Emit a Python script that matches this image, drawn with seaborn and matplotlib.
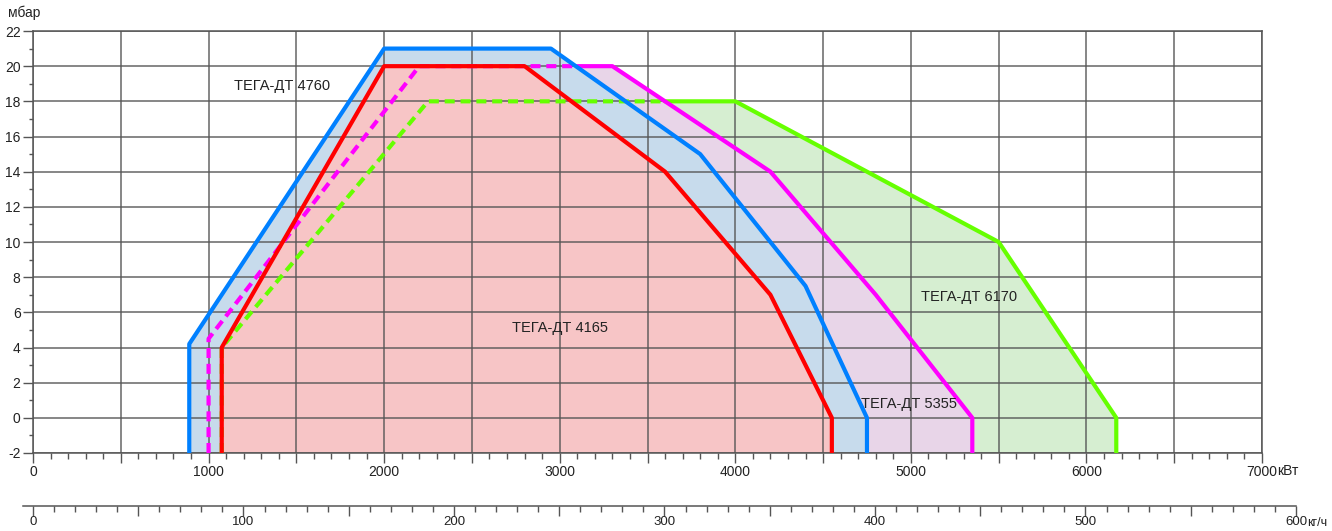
import numpy as np
import pandas as pd
import matplotlib
matplotlib.use("Agg")
import matplotlib.pyplot as plt
import seaborn as sns

# burner working fields, kW vs mbar
blue_kw = [890, 890, 2000, 2950, 3800, 4400, 4750, 4750]
blue_mbar = [-2, 4.2, 21, 21, 15, 7.5, 0, -2]

red_kw = [1075, 1075, 2000, 2800, 3600, 4200, 4550, 4550]
red_mbar = [-2, 4, 20, 20, 14, 7, 0, -2]

magenta_kw = [1000, 1000, 2200, 3100, 3300, 4200, 4800, 5350, 5350]
magenta_mbar = [-2, 4.5, 20, 20, 20, 14, 7, 0, -2]
magenta_dash_end = 3  # dashed part runs up to this vertex

green_kw = [1075, 1075, 2250, 3600, 4000, 5500, 6170, 6170]
green_mbar = [-2, 4, 18, 18, 18, 10, 0, -2]
green_dash_end = 3

labels = ["ТЕГА-ДТ 4760", "ТЕГА-ДТ 4165", "ТЕГА-ДТ 5355", "ТЕГА-ДТ 6170"]
label_kw = [1420, 3000, 4990, 5330]
label_mbar = [18.9, 5.1, 0.8, 6.9]

kw_ticks = list(range(0, 7001, 1000))
kg_ticks = list(range(0, 601, 100))
mbar_ticks = list(range(-2, 23, 2))

sns.set_theme(style="white")
plt.rcParams['font.family'] = ['Liberation Sans', 'DejaVu Sans']

fig = plt.figure(figsize=(13.32, 5.31), dpi=100)
ax = fig.add_axes([33 / 1332, 1 - 453 / 531, (1262 - 33) / 1332, (453 - 31) / 531])

grid_c = "#555555"
text_c = "#222222"

# fills, biggest first so smaller fields sit on top
fills = [
    (green_kw, green_mbar, "#d6eed1"),
    (magenta_kw, magenta_mbar, "#e8d5e8"),
    (blue_kw, blue_mbar, "#c7dbec"),
    (red_kw, red_mbar, "#f7c5c6"),
]
for kw, mb, fc in fills:
    ax.fill(kw, mb, color=fc, lw=0, zorder=1)


def draw(kw, mb, color, dash_end=None):
    df = pd.DataFrame({"kw": kw, "mbar": mb})
    if dash_end is None:
        sns.lineplot(data=df, x="kw", y="mbar", sort=False, estimator=None,
                     color=color, lw=3, ax=ax, zorder=4)
        return
    sns.lineplot(data=df.iloc[:dash_end + 1], x="kw", y="mbar", sort=False,
                 estimator=None, color=color, lw=3, ax=ax, zorder=3,
                 linestyle=(0, (2.4, 1.4)))
    sns.lineplot(data=df.iloc[dash_end:], x="kw", y="mbar", sort=False,
                 estimator=None, color=color, lw=3, ax=ax, zorder=3)


draw(green_kw, green_mbar, "#66ff00", green_dash_end)
draw(magenta_kw, magenta_mbar, "#ff00ff", magenta_dash_end)
draw(blue_kw, blue_mbar, "#0080ff")
draw(red_kw, red_mbar, "#ff0000")

for t, x, y in zip(labels, label_kw, label_mbar):
    ax.text(x, y, t, ha="center", va="center", fontsize=10.5, color=text_c, zorder=5)

major_kw = np.arange(0, 7001, 500)
ax.set_xlim(0, 7000)
ax.set_ylim(-2, 22)
ax.set_xticks(major_kw)
ax.set_xticklabels([str(v) if v in kw_ticks else "" for v in major_kw])
ax.set_xticks(np.arange(0, 7001, 100), minor=True)
ax.set_yticks(mbar_ticks)
ax.set_yticklabels([str(v) for v in mbar_ticks])
ax.set_yticks(np.arange(-2, 23, 1), minor=True)
ax.tick_params(axis="x", which="major", direction="out", length=7, width=1, color=grid_c,
               labelsize=10, pad=2, bottom=True, labelcolor=text_c)
ax.tick_params(axis="x", which="minor", direction="out", length=4, width=1, color=grid_c, bottom=True)
ax.tick_params(axis="y", which="major", direction="out", length=7, width=1, color=grid_c,
               labelsize=10, pad=2, left=True, labelcolor=text_c)
ax.tick_params(axis="y", which="minor", direction="out", length=3, width=1, color=grid_c, left=True)
ax.grid(True, which="major", color=grid_c, lw=1.1, alpha=0.9, zorder=2)
ax.set_axisbelow(False)
for s in ax.spines.values():
    s.set_color(grid_c)
    s.set_linewidth(1.1)
ax.set_xlabel("")
ax.set_ylabel("")

fig.text(8 / 1332, 1 - 13 / 531, "мбар", ha="left", va="center", fontsize=10, color=text_c)
fig.text(1277 / 1332, 1 - 471 / 531, "кВт", ha="left", va="center", fontsize=10, color=text_c)

# second scale, fuel flow in kg/h
ax2 = fig.add_axes([23 / 1332, 1 - 506 / 531, (1296 - 23) / 1332, 0.001])
ax2.set_xlim(-4.75, 600)
ax2.set_ylim(0, 1)
for name in ["left", "right", "top"]:
    ax2.spines[name].set_visible(False)
ax2.spines["bottom"].set_color(grid_c)
ax2.spines["bottom"].set_linewidth(1.1)
ax2.set_yticks([])
major_kg = np.arange(0, 601, 50)
ax2.set_xticks(major_kg)
ax2.set_xticklabels([str(v) if v in kg_ticks else "" for v in major_kg])
ax2.set_xticks(np.arange(0, 601, 10), minor=True)
ax2.tick_params(axis="x", which="major", direction="out", length=7, width=1, color=grid_c,
                labelsize=9.5, pad=0.5, bottom=True, labelcolor=text_c)
ax2.tick_params(axis="x", which="minor", direction="out", length=4, width=1, color=grid_c, bottom=True)
ax2.patch.set_alpha(0)
fig.text(1307 / 1332, 1 - 523 / 531, "кг/ч", ha="left", va="center", fontsize=9, color=text_c)

fig.savefig("out.png", dpi=100)
